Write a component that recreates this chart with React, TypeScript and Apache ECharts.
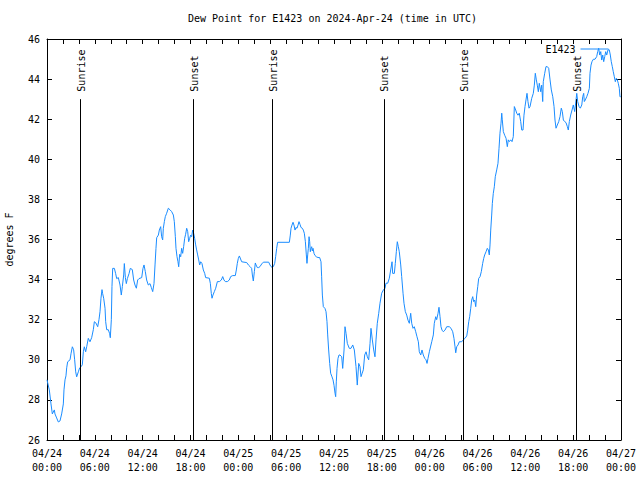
import React, { useEffect, useRef } from 'react';
import * as echarts from 'echarts';

// hours since 2024-04-24 00:00 UTC
const hours = [
  0, 0.29, 0.5, 0.67, 0.92, 1.0, 1.21, 1.42, 1.63, 1.84, 2.05, 2.13, 2.26, 2.38, 2.47, 2.59, 2.89, 3.01, 3.18, 3.34,
  3.47, 3.6, 3.72, 3.93, 4.1, 4.26, 4.43, 4.56, 4.68, 4.85, 4.98, 5.18, 5.39, 5.6, 5.81, 5.94, 6.11, 6.36, 6.52, 6.65,
  6.77, 6.9, 6.98, 7.11, 7.28, 7.36, 7.49, 7.69, 7.86, 7.94, 8.07, 8.15, 8.24, 8.45, 8.61, 8.74, 8.95, 9.16, 9.32, 9.45,
  9.62, 9.7, 9.83, 9.95, 10.08, 10.29, 10.45, 10.7, 10.87, 11.04, 11.21, 11.37, 11.54, 11.88, 12.04, 12.17,
  12.33, 12.5, 12.71, 12.92, 13.09, 13.26, 13.42, 13.55, 13.67, 13.76, 13.97, 14.09, 14.26, 14.38, 14.51, 14.59, 14.72,
  14.84, 15.01, 15.22, 15.43, 15.64, 15.85, 15.97, 16.1, 16.18, 16.31, 16.43, 16.52, 16.64, 16.77, 16.89, 17.02, 17.14,
  17.27, 17.39, 17.52, 17.65, 17.77, 17.9, 18.02, 18.15, 18.27, 18.4, 18.52, 18.65, 18.77, 18.9, 19.03, 19.15, 19.28,
  19.44, 19.61, 19.78, 19.9, 20.36, 20.49, 20.61, 20.7, 20.82, 20.99, 21.16, 21.37, 21.62, 21.87, 22.04, 22.2, 22.37,
  22.62, 22.87, 23.04, 23.29, 23.62, 23.75, 23.87, 24.0, 24.13,
  24.42, 24.71, 25.05, 25.26, 25.47, 25.67, 25.76, 25.88, 26.01, 26.13, 26.22, 26.38, 26.55, 26.72, 26.93, 27.14, 27.81,
  27.97, 28.1, 28.27, 28.39, 28.56, 28.68, 28.81, 28.93, 30.4, 30.52, 30.61, 30.73, 30.86, 30.98, 31.11, 31.23, 31.36,
  31.49, 31.61, 31.74, 31.86, 32.03, 32.15, 32.28, 32.41, 32.53, 32.61, 32.7, 32.78, 32.87, 32.95, 33.03, 33.12, 33.2,
  33.28, 33.37, 33.49, 33.62, 33.78, 33.99, 34.2, 34.37, 34.45, 34.54, 34.66, 34.87, 35.0, 35.12, 35.21, 35.33, 35.46,
  35.58, 35.75, 35.88, 36.0, 36.13, 36.21, 36.29, 36.38, 36.5, 36.63,
  36.75, 36.97, 37.09, 37.26, 37.38, 37.51, 37.67, 37.92, 38.13, 38.35, 38.55, 38.76, 38.92, 39.1, 39.26, 39.39, 39.51,
  39.68, 39.85, 40.02, 40.18, 40.35, 40.52, 40.64, 40.81, 40.98, 41.14, 41.27, 41.43, 41.61, 41.77, 41.98, 42.19, 42.4,
  42.52, 42.74, 42.94, 43.11, 43.28, 43.36, 43.57, 43.69, 43.82, 43.94, 44.07, 44.19, 44.37, 44.49, 44.66, 44.78, 44.95,
  45.12, 45.28, 45.45, 45.62, 45.75, 45.91, 46.07, 46.25, 46.41, 46.58, 46.7, 46.88, 47.04, 47.2, 47.38, 47.54, 47.67,
  47.79, 47.96,
  48.26, 48.46, 48.58, 48.76, 48.88, 49.05, 49.17, 49.3, 49.42, 49.55, 49.71, 49.92, 50.14, 50.46, 50.68, 50.89, 51.05,
  51.18, 51.27, 51.39, 51.56, 51.72, 52.02, 52.22, 52.43, 52.65, 52.77, 52.9, 53.02, 53.15, 53.27, 53.4, 53.52, 53.65,
  53.78, 53.9, 54.03, 54.15, 54.32, 54.48, 54.65, 54.78, 54.9, 55.07, 55.23, 55.36, 55.48, 55.57, 55.66, 55.78, 55.86,
  55.98, 56.11, 56.23, 56.41, 56.57, 56.7, 56.82, 56.95, 57.04, 57.11, 57.24, 57.41, 57.58, 57.74, 57.86, 57.99, 58.17,
  58.33, 58.49, 58.62, 58.79, 58.92, 59.08, 59.24, 59.42, 59.55, 59.71, 59.83, 59.96, 60.08, 60.21, 60.33, 60.46,
  60.59, 60.8, 61.0, 61.13, 61.25, 61.38, 61.5, 61.63, 61.75, 61.93, 62.05, 62.18, 62.25, 62.43, 62.59, 62.76, 62.93,
  63.1, 63.26, 63.44, 63.6, 63.72, 63.85, 64.01, 64.19, 64.35, 64.51, 64.64, 64.77, 64.94, 65.1, 65.27, 65.39, 65.52,
  65.69, 65.86, 66.02, 66.19, 66.36, 66.45, 66.57, 66.74, 66.9, 67.08, 67.2, 67.32, 67.4, 67.52, 67.7, 67.86, 68.03,
  68.11, 68.24, 68.36, 68.53, 68.74, 68.95, 69.08, 69.2, 69.33, 69.46, 69.58, 69.71, 69.83, 69.96, 70.08, 70.21, 70.37,
  70.53, 70.66, 70.78, 70.91, 71.03, 71.16, 71.29, 71.41, 71.54, 71.66, 71.79, 71.87, 71.96,
];

// dew point, degrees F
const dewPoint = [
  29.0, 28.5, 27.8, 27.3, 27.5, 27.3, 27.1, 26.9, 26.95, 27.3, 27.8, 28.5, 29.0, 29.2, 29.6, 29.9, 30.0, 30.3, 30.65, 30.5,
  30.0, 29.4, 29.15, 29.4, 29.6, 29.65, 29.75, 30.4, 30.65, 30.4, 30.65, 31.07, 30.9, 31.1, 31.5, 31.9, 31.85, 31.65, 32.0, 32.4,
  33.07, 33.5, 33.3, 33.07, 32.57, 31.9, 31.5, 31.5, 31.3, 31.1, 32.0, 33.65, 34.56, 34.56, 34.3, 34.05, 34.1, 33.73, 33.23, 33.65,
  34.23, 34.8, 34.1, 33.8, 34.05, 34.3, 34.56, 34.5, 33.98, 33.73, 33.57, 33.98, 34.05, 34.1, 34.56, 34.73,
  34.4, 33.98, 33.73, 33.8, 33.6, 33.4, 33.8, 34.73, 35.56, 36.09, 36.22, 36.47, 36.64, 36.14, 35.98, 36.56, 36.89,
  37.14, 37.31, 37.56, 37.48, 37.39, 37.22, 36.89, 36.14, 35.56, 35.14, 34.89, 34.64, 35.26, 35.14, 35.56, 35.31, 35.64,
  36.06, 36.26, 36.56, 36.39, 35.89, 36.06, 36.22, 36.14, 36.47, 36.3, 36.06, 35.73, 35.48, 35.23, 34.98, 34.73, 34.89,
  34.8, 34.48, 34.31, 34.1, 34.07, 33.81, 33.31, 33.07, 33.23, 33.4, 33.57, 33.9, 33.9, 33.98, 34.15, 33.98, 33.9,
  33.9, 33.98, 34.15, 34.2, 34.2, 34.48, 34.81, 35.06, 35.18,
  34.89, 34.87, 34.85, 34.73, 34.65, 34.56, 34.23, 33.93, 34.4, 34.83, 34.73, 34.6, 34.6, 34.65, 34.78, 34.87, 34.87,
  34.73, 34.65, 34.6, 34.65, 34.81, 35.14, 35.56, 35.86, 35.86, 36.22, 36.56, 36.72, 36.86, 36.72, 36.47, 36.6, 36.56,
  36.72, 36.89, 36.75, 36.6, 36.56, 36.47, 36.31, 35.89, 35.23, 34.81, 35.23, 35.56, 36.14, 35.89, 35.39, 35.56, 35.64,
  35.43, 35.56, 35.31, 35.2, 35.14, 35.1, 35.1, 34.89, 34.14, 33.23, 32.65, 32.56, 32.4, 31.9, 31.24, 30.49, 29.82,
  29.33, 29.15, 29.0, 28.73, 28.33, 28.16, 28.9, 29.57, 30.07, 30.24,
  30.24, 30.15, 29.57, 30.49, 31.65, 31.32, 30.82, 30.57, 30.57, 30.74, 30.49, 29.66, 28.74, 29.82, 29.66, 29.16, 29.3,
  29.5, 30.24, 30.4, 30.15, 30.0, 30.82, 31.57, 30.99, 30.49, 30.15, 30.99, 31.82, 32.32, 32.82, 33.32, 33.48, 33.57,
  33.82, 33.82, 34.07, 34.48, 34.89, 34.31, 34.31, 34.81, 35.39, 35.89, 35.64, 35.39, 34.73, 34.15, 33.32, 32.82, 32.4,
  32.23, 31.98, 31.82, 32.32, 31.82, 31.57, 31.65, 31.4, 31.15, 30.9, 30.4, 30.24, 30.49, 30.24, 30.07, 30.0, 29.82,
  30.07, 30.4,
  30.9, 31.24, 31.82, 32.15, 32.0, 32.32, 32.62, 32.15, 31.65, 31.48, 31.4, 31.48, 31.65, 31.65, 31.57, 31.4, 31.07,
  30.65, 30.35, 30.65, 30.74, 30.9, 30.9, 30.99, 31.07, 31.19, 31.48, 31.9, 32.15, 32.57, 32.98, 33.15, 32.9, 32.98,
  32.65, 33.23, 33.65, 34.06, 34.15, 34.4, 34.81, 35.06, 35.23, 35.39, 35.56, 35.48, 35.23, 35.73, 36.47, 37.22, 37.8,
  38.3, 38.63, 39.13, 39.47, 39.8, 40.55, 41.3, 41.8, 42.3, 41.97, 41.38, 41.2, 41.05, 40.63, 40.97, 40.88, 40.97,
  40.88, 41.13, 42.63, 42.46, 42.3, 42.2, 42.3, 41.88, 41.46, 41.46, 42.2, 42.63, 42.96, 43.29, 42.88, 42.55,
  42.63, 43.04, 43.29, 43.7, 44.29, 43.96, 43.7, 43.37, 43.79, 43.37, 43.7, 42.88, 43.87, 44.29, 44.62, 44.62, 44.54,
  43.96, 43.46, 43.12, 42.63, 41.96, 41.55, 41.71, 41.88, 42.13, 42.55, 42.38, 41.96, 41.88, 41.83, 41.63, 41.46, 41.88,
  42.21, 42.46, 42.71, 42.38, 42.96, 43.29, 42.88, 42.63, 42.55, 42.71, 43.12, 43.29, 42.88, 42.96, 43.12, 43.29, 43.54,
  44.29, 44.7, 44.87, 44.99, 44.99, 45.12, 45.37, 45.54, 45.2, 45.37, 44.95, 45.2, 44.87, 45.12, 45.37, 45.2, 45.46,
  45.46, 45.2, 44.87, 44.62, 44.37, 44.12, 43.87, 44.04, 43.96, 43.79, 43.54, 43.12, 43.12,
];

const sunEventHours = [4.14, 18.34, 28.25, 42.27, 52.21, 66.36];
const sunEventLabels = ['Sunrise', 'Sunset', 'Sunrise', 'Sunset', 'Sunrise', 'Sunset'];
const sunLineTop = 43;

const xTickLabels = [
  '04/24\n00:00', '04/24\n06:00', '04/24\n12:00', '04/24\n18:00',
  '04/25\n00:00', '04/25\n06:00', '04/25\n12:00', '04/25\n18:00',
  '04/26\n00:00', '04/26\n06:00', '04/26\n12:00', '04/26\n18:00',
  '04/27\n00:00',
];
const xMin = 0;
const xMax = 72;
const yMin = 26;
const yMax = 46;

const seriesName = 'E1423';
const titleText = 'Dew Point for E1423 on 2024-Apr-24 (time in UTC)';
const yAxisName = 'degrees F';

export default function App() {
  const ref = useRef<HTMLDivElement>(null);
  useEffect(() => {
    const chart = echarts.init(ref.current!, null, { renderer: 'svg' });
    const font = 'DejaVu Sans Mono';
    const fs = 10;
    const blue = '#1a8cff';
    const data = hours.map((h, i) => [h, dewPoint[i]]);
    const lineStyle = { color: '#000', width: 1 };
    const tick = { show: true, inside: true, length: 5, lineStyle };

    chart.setOption({
      animation: false,
      backgroundColor: '#fff',
      title: {
        text: titleText,
        left: 188,
        top: 13,
        padding: 0,
        textStyle: { fontFamily: font, fontSize: fs, fontWeight: 'normal', color: '#000' },
      },
      legend: {
        data: [seriesName],
        right: 31,
        top: 44,
        padding: 0,
        align: 'right',
        itemWidth: 28,
        itemHeight: 10,
        itemStyle: { opacity: 0 },
        lineStyle: { color: blue, width: 1 },
        textStyle: { fontFamily: font, fontSize: fs, color: '#000' },
      },
      grid: {
        left: 47,
        right: 19,
        top: 39,
        bottom: 40,
        containLabel: false,
        outerBoundsMode: 'none',
      },
      xAxis: [
        {
          type: 'value',
          min: xMin,
          max: xMax,
          interval: 2,
          axisLine: { show: true, onZero: false, lineStyle },
          axisTick: tick,
          splitLine: { show: false },
          axisLabel: {
            show: true,
            margin: 6,
            lineHeight: 14,
            fontFamily: font,
            fontSize: fs,
            color: '#000',
            showMinLabel: true,
            showMaxLabel: true,
            formatter: (v: number) => (v % 6 === 0 ? xTickLabels[v / 6] : ''),
          },
        },
        {
          type: 'value',
          position: 'top',
          min: xMin,
          max: xMax,
          interval: 2,
          axisLine: { show: true, onZero: false, lineStyle },
          axisTick: tick,
          splitLine: { show: false },
          axisLabel: { show: false },
        },
      ],
      yAxis: [
        {
          type: 'value',
          min: yMin,
          max: yMax,
          interval: 2,
          name: yAxisName,
          nameLocation: 'middle',
          nameGap: 33,
          nameRotate: 90,
          nameTextStyle: { fontFamily: font, fontSize: fs, color: '#000' },
          axisLine: { show: true, onZero: false, lineStyle },
          axisTick: tick,
          splitLine: { show: false },
          axisLabel: { margin: 7, fontFamily: font, fontSize: fs, color: '#000' },
        },
        {
          type: 'value',
          position: 'right',
          min: yMin,
          max: yMax,
          interval: 2,
          axisLine: { show: true, onZero: false, lineStyle },
          axisTick: tick,
          splitLine: { show: false },
          axisLabel: { show: false },
        },
      ],
      series: [
        {
          name: seriesName,
          type: 'line',
          data,
          symbol: 'none',
          showSymbol: false,
          lineStyle: { color: blue, width: 1 },
          itemStyle: { color: blue },
          z: 3,
          markLine: {
            silent: true,
            symbol: 'none',
            label: { show: false },
            lineStyle: { color: '#000', width: 1, type: 'solid' },
            data: sunEventHours.map((h) => [
              { coord: [h, sunLineTop] },
              { coord: [h, yMin] },
            ]),
          },
        },
      ],
    });

    const graphic = sunEventHours.map((h, i) => {
      const p = chart.convertToPixel({ seriesIndex: 0 }, [h, sunLineTop]) as number[];
      return {
        type: 'text',
        x: p[0] + 1,
        y: p[1] - 7.5,
        rotation: Math.PI / 2,
        style: {
          text: sunEventLabels[i],
          fontFamily: font,
          fontSize: fs,
          fill: '#000',
          align: 'left',
          verticalAlign: 'middle',
        },
      };
    });
    chart.setOption({ graphic });

    return () => chart.dispose();
  }, []);
  return (
    <div
      ref={ref}
      style={{ position: 'absolute', left: 0, top: 0, width: 640, height: 480 }}
    />
  );
}
